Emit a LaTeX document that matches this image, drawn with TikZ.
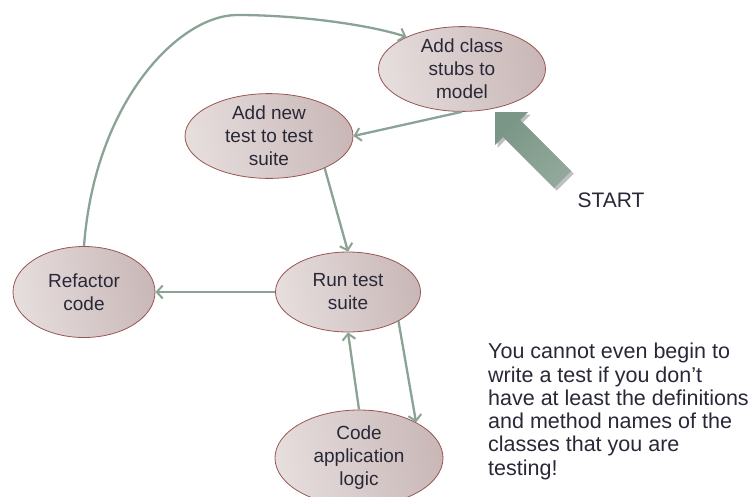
\documentclass[tikz,border=0pt]{standalone}
\usepackage{fontspec}
\setmainfont{Liberation Sans}
\usepackage{xcolor}
\usepackage{tikz}
\usetikzlibrary{shapes.geometric,shadows,arrows.meta}
\definecolor{flowgreen}{RGB}{138,163,148}
\definecolor{startgreen}{RGB}{122,150,134}
\definecolor{startlight}{RGB}{145,168,154}
\definecolor{ovalrim}{RGB}{152,86,82}
\definecolor{ovalleft}{RGB}{230,221,221}
\definecolor{ovalright}{RGB}{202,184,184}
\definecolor{inktext}{RGB}{40,40,55}

\tikzset{
  stage/.style={ellipse, draw=ovalrim, line width=0.8pt, left color=ovalleft,
    right color=ovalright, shading angle=100, inner sep=0pt, align=center,
    text=inktext, font=\fontsize{19}{23}\selectfont},
  flow/.style={draw=flowgreen, line width=2.3pt,
    -{Straight Barb[length=6pt,width=13pt,line width=2pt]}}
}

\begin{document}
\begin{tikzpicture}[x=1pt,y=-1pt]
            \useasboundingbox (0,0) rectangle (755,496);
            % the five stages
            \node[stage, minimum width=167pt, minimum height=82pt] (stubs) at (462,69) {Add class\\stubs to\\model};
            \node[stage, minimum width=168pt, minimum height=82pt] (newtest) at (269,136) {Add new\\test to test\\suite};
            \node[stage, minimum width=145pt, minimum height=80pt] (run) at (348,292) {Run test\\suite};
            \node[stage, minimum width=142pt, minimum height=91pt] (refactor) at (84,292) {Refactor\\code};
            \node[stage, minimum width=168pt, minimum height=96pt] (code) at (359,458) {Code\\application\\logic};

            % cycle
            \draw[flow] (stubs.south) -- (newtest.east);
            \draw[flow] (newtest.-30) -- (run.north);
            \draw[flow] (run.west) -- (refactor.east);
            \draw[flow] (run.-30) -- (code.32);
            \draw[flow] (code.north) -- (run.south);
            \draw[flow] (refactor.north) .. controls (95,100) and (180,15) .. (237,15)
                        .. controls (300,15) and (370,25) .. (stubs.150);

            % start arrow
            \shade[left color=startgreen, right color=startlight, shading angle=45, drop shadow]
              (495,112) -- (528,112) -- (520,120) -- (571,171) -- (554,188) -- (503,137) -- (495,145) -- cycle;
            \node[text=inktext, font=\fontsize{21}{25}\selectfont] (start) at (611,200) {START};

            \node[anchor=north west, inner sep=0pt, align=left, text=inktext,
                  font=\fontsize{21.5}{23.3}\selectfont] (note) at (488,343) {
                You cannot even begin to\\write a test if you don’t\\have at least the definitions\\and method names of the\\classes that you are\\testing!
            };
        \end{tikzpicture}
\end{document}
